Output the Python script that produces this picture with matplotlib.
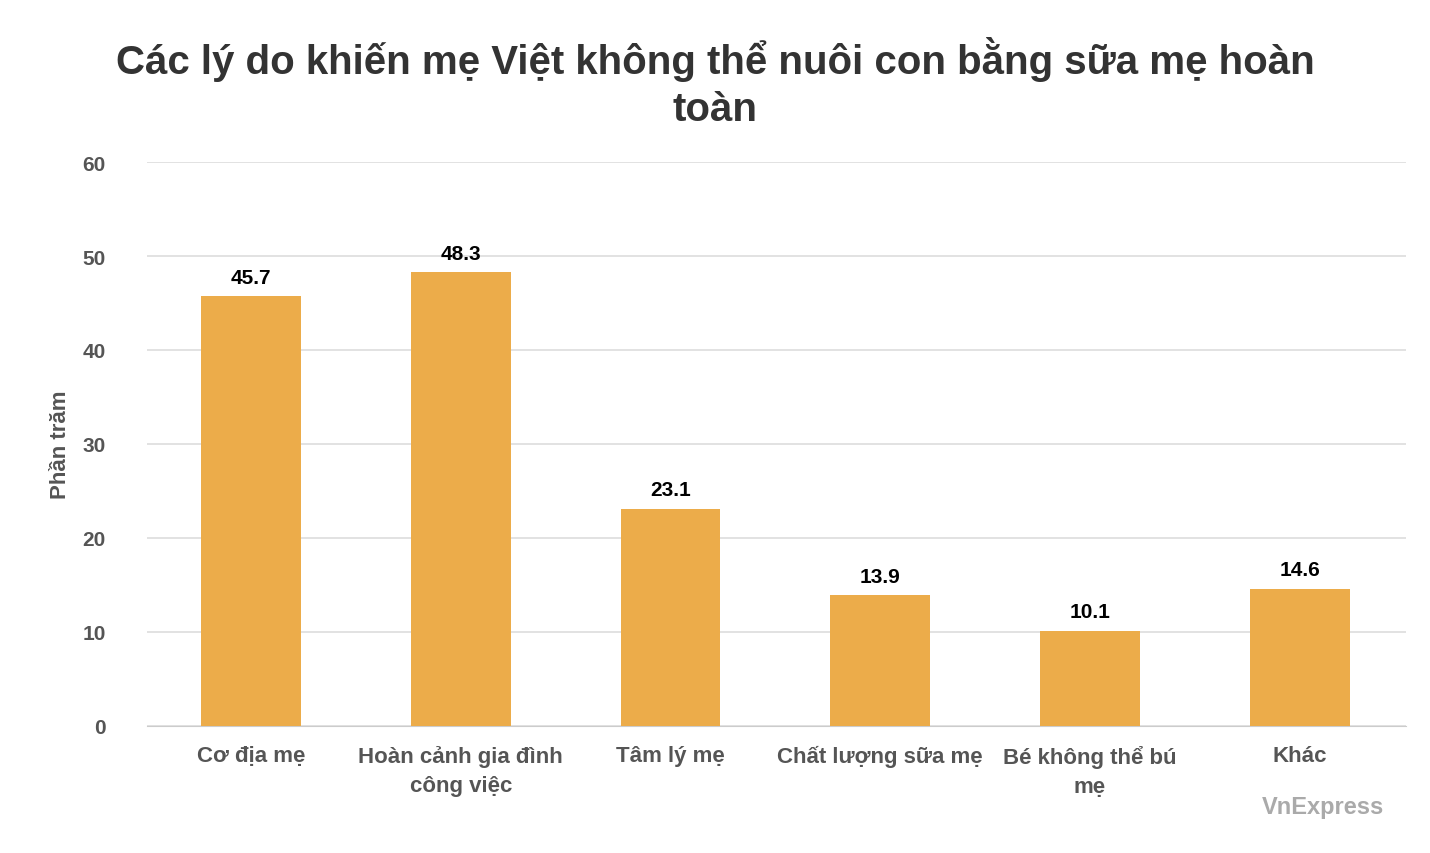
import matplotlib
matplotlib.use("Agg")
import matplotlib.pyplot as plt

categories = ["Cơ địa mẹ", "Hoàn cảnh gia đình\ncông việc", "Tâm lý mẹ",
              "Chất lượng sữa mẹ", "Bé không thể bú\nmẹ", "Khác"]
values = [45.7, 48.3, 23.1, 13.9, 10.1, 14.6]
yticks = [0, 10, 20, 30, 40, 50, 60]

plt.rcParams["font.family"] = ["Liberation Sans", "DejaVu Sans"]
fig = plt.figure(figsize=(14.3, 8.54), dpi=100)
ax = fig.add_axes([0.103, 0.149, 0.88, 0.66])

x = range(len(categories))
bars = ax.bar(x, values, width=0.476, color="#ECAC4A", zorder=3)
for b, v in zip(bars, values):
    ax.text(b.get_x() + b.get_width() / 2, v + 1, f"{v}", ha="center", va="bottom",
            fontsize=15, fontweight="bold", color="black")

ax.set_ylim(0, 60)
ax.set_xlim(-0.495, 5.505)
ax.set_yticks(yticks)
ax.grid(axis="y", color="#dddddd", linewidth=1.2, zorder=0)
ax.tick_params(axis="y", length=0, labelsize=15, labelcolor="#555555", pad=30)
ax.tick_params(axis="x", length=0, labelsize=16, labelcolor="#555555", pad=14)
for lbl in ax.get_yticklabels():
    lbl.set_fontweight("bold")
ax.set_xticks(list(x))
ax.set_xticklabels(categories, fontweight="bold", linespacing=1.5)
for s in ["top", "right", "left"]:
    ax.spines[s].set_visible(False)
ax.spines["bottom"].set_color("#cccccc")
ax.set_ylabel("Phần trăm", fontsize=16, fontweight="bold", color="#555555", labelpad=8)

fig.text(0.5, 0.903, "Các lý do khiến mẹ Việt không thể nuôi con bằng sữa mẹ hoàn\ntoàn",
         ha="center", va="center", fontsize=29, fontweight="bold", color="#333333",
         linespacing=1.3)
fig.text(0.968, 0.047, "VnExpress", ha="right", fontsize=17, fontweight="bold", color="#aaaaaa")

fig.savefig("out.png", dpi=100)
